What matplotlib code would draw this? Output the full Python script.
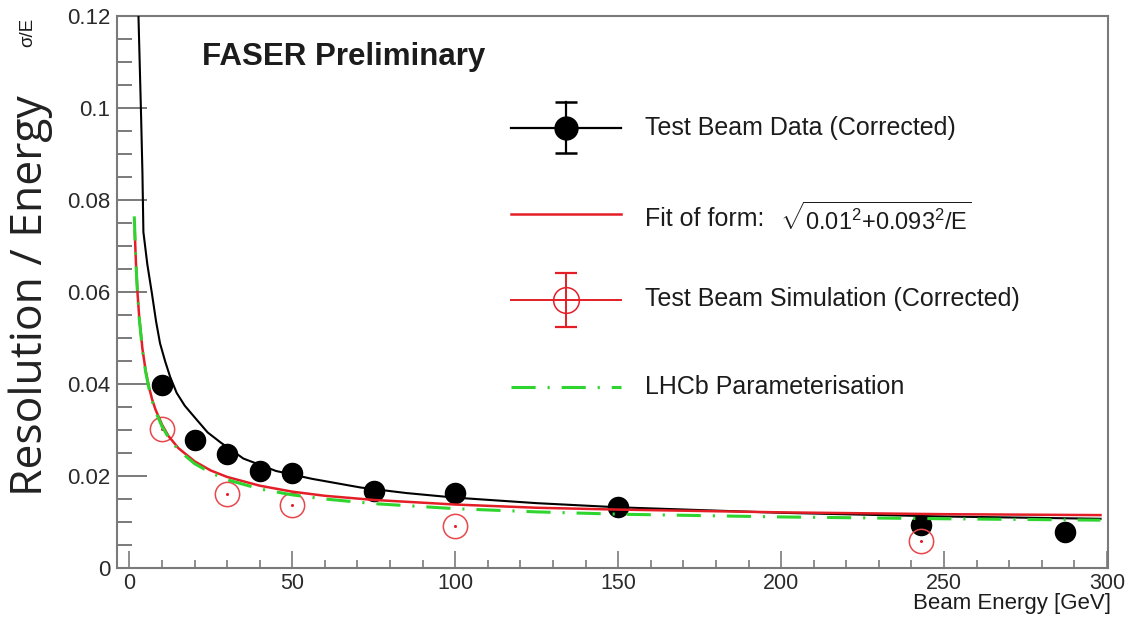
import numpy as np
import matplotlib
matplotlib.use("Agg")
import matplotlib.pyplot as plt
from matplotlib.ticker import MultipleLocator, FuncFormatter

plt.rcParams["font.family"] = ["Liberation Sans", "DejaVu Sans"]
plt.rcParams["mathtext.fontset"] = "custom"
plt.rcParams["mathtext.rm"] = "Liberation Sans"
plt.rcParams["mathtext.it"] = "Liberation Sans:italic"

# ------------------------------------------------------------------
# Data
# ------------------------------------------------------------------
data_E = [10, 20, 30, 40, 50, 75, 100, 150, 243, 287]
data_res = [0.0398, 0.0278, 0.0247, 0.0211, 0.0205, 0.0166, 0.0163, 0.0132, 0.0093, 0.0078]

sim_E = [10, 30, 50, 100, 243]
sim_res = [0.0301, 0.0160, 0.0136, 0.0090, 0.0058]

# fit to data (black curve)
fit_data_E = [2.75, 3.6, 4.0, 4.3, 5.5, 6.9, 8.2, 9.4, 11, 12.5, 14.5, 17, 20.6, 24,
              28, 35, 45, 56, 71, 85, 100, 125, 150, 200, 250, 298]
fit_data_res = [0.121, 0.098, 0.086, 0.073, 0.066, 0.0597, 0.0535, 0.0488, 0.0448,
                0.0415, 0.0380, 0.0352, 0.0322, 0.0294, 0.0272, 0.0237, 0.0210,
                0.0193, 0.0174, 0.0162, 0.0152, 0.0140, 0.0131, 0.0119, 0.0111, 0.0106]

# fit of form sqrt(0.01^2 + 0.093^2/E) (red curve)
fit_sim_E = [1.65, 2, 2.5, 3, 4, 5, 6, 7, 8, 10, 12, 15, 20, 25, 30, 40, 50, 60, 75,
             100, 125, 150, 200, 250, 298]
fit_sim_res = [0.0731, 0.0665, 0.0597, 0.0546, 0.0476, 0.0428, 0.0393, 0.0365, 0.0344,
               0.0311, 0.0286, 0.0260, 0.0231, 0.0211, 0.0197, 0.0178, 0.0165, 0.0156,
               0.0147, 0.0137, 0.0130, 0.0126, 0.0120, 0.0116, 0.0114]

# LHCb parameterisation (green dash-dot)
lhcb_E = [1.5, 2, 2.5, 3, 4, 5, 6, 7, 8, 10, 12, 15, 20, 25, 30, 40, 50, 60, 75,
          100, 125, 150, 200, 250, 298]
lhcb_res = [0.0764, 0.0663, 0.0595, 0.0544, 0.0473, 0.0425, 0.0390, 0.0362, 0.0340,
            0.0307, 0.0283, 0.0256, 0.0226, 0.0206, 0.0191, 0.0171, 0.0158, 0.0149,
            0.0139, 0.0128, 0.0121, 0.0116, 0.0110, 0.0106, 0.0103]

legend_labels = ["Test Beam Data (Corrected)",
                 "Fit of form:",
                 "Test Beam Simulation (Corrected)",
                 "LHCb Parameterisation"]
fit_formula = r"$\sqrt{\mathrm{0.01^2{+}0.093^2/E}}$"

RED = "#e41e26"
GREEN = "#2fd52f"
SIMRED = "#e8474c"
FRAME = "#7a7a7a"
TXT = "#1c1c1c"
DASHDOT = (0, (7.9, 3.9, 0.7, 3.9))

# ------------------------------------------------------------------
W, H = 1127, 619
fig = plt.figure(figsize=(W / 100, H / 100), dpi=100, facecolor="white")
ax = fig.add_axes([117 / W, 1 - 567.5 / H, (1108 - 117) / W, (567.5 - 16) / H])

ax.plot(data_E, data_res, "o", color="black", ms=14.5, zorder=3)
ax.plot(sim_E, sim_res, "o", mfc="none", mec=SIMRED, mew=1.1, ms=17.5, zorder=3)
ax.plot(sim_E, sim_res, "o", color=RED, ms=2.2, mew=0, zorder=3)

ax.plot(fit_data_E, fit_data_res, color="black", lw=1.5, zorder=4)
ax.plot(fit_sim_E, fit_sim_res, color=RED, lw=1.8, zorder=5)
ax.plot(lhcb_E, lhcb_res, color=GREEN, lw=2.2, ls=DASHDOT, zorder=6)

ax.set_xlim(-3.8, 300.3)
ax.set_ylim(0, 0.12)

ax.xaxis.set_major_locator(MultipleLocator(50))
ax.xaxis.set_minor_locator(MultipleLocator(10))
ax.yaxis.set_major_locator(MultipleLocator(0.02))
ax.yaxis.set_minor_locator(MultipleLocator(0.005))
ax.yaxis.set_major_formatter(FuncFormatter(lambda v, p: "0" if abs(v) < 1e-9 else f"{v:g}"))

ax.tick_params(axis="both", which="both", direction="in", colors=FRAME,
               labelcolor="#2a2a2a", top=False, right=False)
ax.tick_params(axis="y", which="major", length=21.5, width=1.4, labelsize=16, pad=5)
ax.tick_params(axis="y", which="minor", length=10.5, width=1.4)
ax.tick_params(axis="x", which="major", length=12, width=1.2, labelsize=15.5, pad=4)
ax.tick_params(axis="x", which="minor", length=5.5, width=1.2)
for sp in ax.spines.values():
    sp.set_color(FRAME)
    sp.set_linewidth(1.5)

# titles
fig.text(1111 / W, 1 - 603 / H, "Beam Energy [GeV]", ha="right", va="center",
         fontsize=16, color=TXT)
fig.text(28 / W, 1 - 18 / H, "σ/E", rotation=90, ha="center", va="top",
         fontsize=13.5, color=TXT)
fig.text(31 / W, 1 - 296 / H, "Resolution / Energy", rotation=90, ha="center",
         va="center", fontsize=32, color="#222222", family=["Open Sans", "DejaVu Sans"])
fig.text(202 / W, 1 - 57 / H, "FASER Preliminary", ha="left", va="center",
         fontsize=22.5, fontweight="bold", color=TXT)

# ------------------------------------------------------------------
# Legend (drawn by hand, ROOT style)
# ------------------------------------------------------------------
def fx(px):
    return (px - 117) / (1108 - 117)


def fy(py):
    return (567.5 - py) / (567.5 - 16)


tr = ax.transAxes
hx0, hx1, hxc, tx = fx(511), fx(621), fx(566), fx(645)
rows = [128, 214, 300, 387]
text_rows = [128, 219, 299, 387]

# black data entry
y = fy(rows[0])
ax.plot([hx0, hx1], [y, y], color="black", lw=1.6, transform=tr, clip_on=False)
ax.plot([hxc, hxc], [fy(102), fy(153)], color="black", lw=1.6, transform=tr, clip_on=False)
ax.plot([hxc, hxc], [fy(102), fy(153)], ls="none", marker="_", ms=16, mew=1.8,
        color="black", transform=tr, clip_on=False)
ax.plot([hxc], [y], "o", color="black", ms=16.5, transform=tr, clip_on=False)

# red fit entry
y = fy(rows[1])
ax.plot([hx0, hx1], [y, y], color=RED, lw=1.8, transform=tr, clip_on=False)

# red simulation entry
y = fy(rows[2])
ax.plot([hx0, hx1], [y, y], color=RED, lw=1.4, transform=tr, clip_on=False)
ax.plot([hxc, hxc], [fy(273), fy(327)], color=RED, lw=1.4, transform=tr, clip_on=False)
ax.plot([hxc, hxc], [fy(273), fy(327)], ls="none", marker="_", ms=16, mew=1.6,
        color=RED, transform=tr, clip_on=False)
ax.plot([hxc], [y], "o", mfc="none", mec=RED, mew=1.1, ms=18.5, transform=tr, clip_on=False)

# green LHCb entry
y = fy(rows[3])
ax.plot([hx0, hx1], [y, y], color=GREEN, lw=2.2, ls=DASHDOT, transform=tr, clip_on=False)

for r, lab in zip(text_rows, legend_labels):
    ax.text(tx, fy(r), lab, transform=tr, ha="left", va="center", fontsize=18, color=TXT)
ax.text(fx(780), fy(text_rows[1]), fit_formula, transform=tr, ha="left", va="center",
        fontsize=17, color=TXT)

fig.savefig("out.png", dpi=100, facecolor="white")
